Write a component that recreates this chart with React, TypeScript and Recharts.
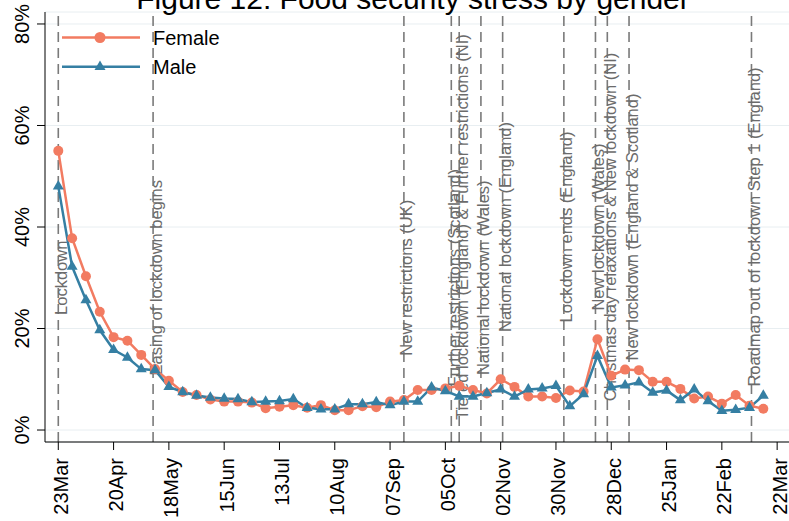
import React from 'react';
import { LineChart, Line, XAxis, YAxis, CartesianGrid, ReferenceLine } from 'recharts';

// weeks since 23 Mar 2020, in days
const days = [
  0, 7, 14, 21, 28, 35, 42, 49, 56, 63, 70, 77, 84, 91, 98, 105, 112, 119, 126, 133,
  140, 147, 154, 161, 168, 175, 182, 189, 196, 203, 210, 217, 224, 231, 238, 245, 252,
  259, 266, 273, 280, 287, 294, 301, 308, 315, 322, 329, 336, 343, 350, 357,
];

const female = [
  55, 37.8, 30.3, 23.3, 18.3, 17.6, 14.8, 12.0, 9.7, 7.5,
  6.9, 6.0, 5.6, 5.6, 5.4, 4.3, 4.6, 4.9, 4.4, 4.9,
  3.9, 3.9, 4.7, 4.5, 5.6, 5.9, 7.9, 7.9, 8.2, 8.7,
  7.9, 7.2, 10.0, 8.5, 6.6, 6.6, 6.3, 7.8, 7.6, 17.9,
  10.7, 11.9, 11.8, 9.5, 9.5, 8.1, 6.2, 6.6, 5.2, 6.9,
  4.8, 4.2,
];

const male = [
  48, 32.2, 25.6, 19.7, 15.8, 14.3, 12.0, 11.8, 8.5, 7.5,
  6.8, 6.4, 6.2, 6.1, 5.5, 5.6, 5.7, 6.1, 4.4, 4.1,
  4.1, 5.1, 5.1, 5.5, 4.9, 5.6, 5.6, 8.4, 7.7, 6.6,
  6.6, 7.3, 8.0, 6.6, 8.0, 8.2, 8.7, 4.7, 7.1, 14.6,
  8.4, 8.8, 9.4, 7.4, 7.8, 5.9, 8.0, 5.7, 3.8, 4.0,
  4.4, 6.8,
];

const tickDays = [0, 28, 56, 84, 112, 140, 168, 196, 224, 252, 280, 308, 336, 364];
const tickLabels = ['23Mar', '20Apr', '18May', '15Jun', '13Jul', '10Aug', '07Sep', '05Oct', '02Nov', '30Nov', '28Dec', '25Jan', '22Feb', '22Mar'];

const eventDays = [0, 48, 175, 199, 203, 214, 225, 256, 272, 278, 289, 351];
const eventLevels = [30, 30, 30, 30, 40, 30, 40, 40, 40, 40, 40, 40];
const eventNames = [
  'Lockdown',
  'Easing of lockdown begins',
  'New restrictions (UK)',
  'Further restrictions (Scotland)',
  'Tiered lockdown (England) & Further restrictions (NI)',
  'National lockdown (Wales)',
  'National lockdown (England)',
  'Lockdown ends (England)',
  'New lockdown (Wales)',
  'Christmas day relaxations & New lockdown (NI)',
  'New lockdown (England & Scotland)',
  'Roadmap out of lockdown Step 1 (England)',
];

const data = days.map((d, i) => ({ day: d, female: female[i], male: male[i] }));

const FEMALE = '#F27B61';
const MALE = '#357FA3';
const Y_MIN = -2.36;
const Y_MAX = 82.36;
const FONT = '"Liberation Sans", Arial, sans-serif';

function Triangle({ cx, cy }: any) {
  if (cx == null || cy == null) return null;
  return <polygon points={`${cx},${cy - 6.3} ${cx - 5.5},${cy + 3.2} ${cx + 5.5},${cy + 3.2}`} fill={MALE} />;
}

function XTick({ x, y, payload }: any) {
  const idx = tickDays.indexOf(payload.value);
  return (
    <text transform={`translate(${x + 9.5}, ${y + 6}) rotate(-90)`} textAnchor="end" fontSize={20} fill="#000" fontFamily={FONT}>
      {tickLabels[idx]}
    </text>
  );
}

function YTick({ y, payload }: any) {
  return (
    <text transform={`translate(29, ${y}) rotate(-90)`} textAnchor="middle" fontSize={20} fill="#000" fontFamily={FONT}>
      {payload.value}%
    </text>
  );
}

function EventLabel({ viewBox, text, level }: any) {
  if (!viewBox) return null;
  const cy = viewBox.y + (viewBox.height * (Y_MAX - level)) / (Y_MAX - Y_MIN);
  return (
    <text transform={`translate(${viewBox.x + 8.5}, ${cy}) rotate(-90)`} textAnchor="middle" fontSize={16.5} fill="#6b6b6b" fontFamily={FONT}>
      {text}
    </text>
  );
}

export default function App() {
  return (
    <div style={{ position: 'absolute', left: 0, top: 0, width: 789, height: 521, overflow: 'hidden', background: '#fff', fontFamily: FONT }}>
      <LineChart width={789} height={521} data={data} margin={{ top: 12, right: 0, left: 0, bottom: 0 }}>
        <CartesianGrid horizontal vertical={false} stroke="#e8eef1" strokeWidth={1} />
        <XAxis
          type="number"
          dataKey="day"
          domain={[-6.73, 370]}
          ticks={tickDays}
          interval={0}
          tick={<XTick />}
          tickSize={8}
          height={79}
          axisLine={{ stroke: '#000' }}
          tickLine={{ stroke: '#000' }}
        />
        <YAxis
          type="number"
          domain={[Y_MIN, Y_MAX]}
          ticks={[0, 20, 40, 60, 80]}
          interval={0}
          tick={<YTick />}
          tickSize={8}
          width={45}
          axisLine={{ stroke: '#000' }}
          tickLine={{ stroke: '#000' }}
        />
        {eventDays.map((d, i) => (
          <ReferenceLine
            key={eventNames[i]}
            x={d}
            stroke="#7a7a7a"
            strokeWidth={1.6}
            strokeDasharray="10 6"
            label={(props: any) => <EventLabel {...props} text={eventNames[i]} level={eventLevels[i]} />}
          />
        ))}
        <Line
          dataKey="female"
          stroke={FEMALE}
          strokeWidth={2.5}
          dot={{ r: 5, fill: FEMALE, stroke: FEMALE, strokeWidth: 0 }}
          activeDot={false}
          isAnimationActive={false}
        />
        <Line
          dataKey="male"
          stroke={MALE}
          strokeWidth={2.5}
          dot={(p: any) => <Triangle key={p.index} {...p} />}
          activeDot={false}
          isAnimationActive={false}
        />
      </LineChart>
      <svg width={789} height={521} style={{ position: 'absolute', left: 0, top: 0, pointerEvents: 'none' }}>
        <text x={413} y={9} textAnchor="middle" fontSize={30} fill="#000" fontFamily={FONT}>
          Figure 12: Food security stress by gender
        </text>
        <line x1={62} x2={140} y1={37.5} y2={37.5} stroke={FEMALE} strokeWidth={2.5} />
        <circle cx={100} cy={37.5} r={5.5} fill={FEMALE} />
        <text x={153} y={45} fontSize={20} fill="#000" fontFamily={FONT}>Female</text>
        <line x1={62} x2={140} y1={66.7} y2={66.7} stroke={MALE} strokeWidth={2.5} />
        <polygon points="100,60.4 94.5,69.9 105.5,69.9" fill={MALE} />
        <text x={153} y={74} fontSize={20} fill="#000" fontFamily={FONT}>Male</text>
      </svg>
    </div>
  );
}
